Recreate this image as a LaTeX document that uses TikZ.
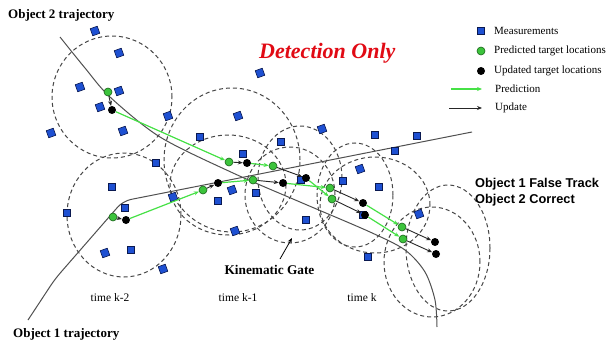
\documentclass[tikz,border=0pt]{standalone}
\usepackage{fontspec}
\setmainfont{Liberation Serif}
\newfontfamily\arialfam{Liberation Sans}
\usetikzlibrary{arrows.meta}
\definecolor{measblue}{RGB}{30,80,210}
\definecolor{measedge}{RGB}{10,25,80}
\definecolor{gfill}{RGB}{60,195,60}
\definecolor{gedge}{RGB}{25,100,25}
\definecolor{gline}{RGB}{70,225,70}
\definecolor{gatecol}{RGB}{70,70,70}
\definecolor{trajcol}{RGB}{80,80,80}
\definecolor{titlered}{RGB}{225,10,20}
\begin{document}
\begin{tikzpicture}[x=1pt,y=-1pt,
 meas/.style={rectangle,draw=measedge,fill=measblue,line width=0.6pt,minimum size=7.5pt,inner sep=0pt},
 tilt/.style={rotate=20},
 gdot/.style={circle,draw=gedge,fill=gfill,line width=0.6pt,minimum size=8pt,inner sep=0pt},
 bdot/.style={circle,fill=black,minimum size=8pt,inner sep=0pt},
 pred/.style={draw=gline,line width=1.2pt,-{Stealth[length=5pt,width=4pt]}},
 upd/.style={draw=black!85,line width=0.9pt,-{Stealth[length=5pt,width=4pt]}},
 gate/.style={draw=gatecol,line width=1pt,dash pattern=on 4pt off 3pt},
 traj/.style={draw=trajcol,line width=1pt},
 lbl/.style={font=\fontsize{11}{13}\selectfont,anchor=west,inner sep=0pt},
 bold/.style={font=\bfseries\fontsize{13}{15}\selectfont,inner sep=0pt},
 sbold/.style={font=\arialfam\bfseries\fontsize{12.8}{15}\selectfont,anchor=west,inner sep=0pt},
 timel/.style={font=\fontsize{11.5}{13}\selectfont,inner sep=0pt}]
\fill[white] (0,0) rectangle (613,345);
\useasboundingbox (0,0) rectangle (613,345);

% gates
\draw[gate] (112,97) ellipse [x radius=60pt, y radius=61pt];
\draw[gate] (124,215) ellipse [x radius=57pt, y radius=62pt];
\draw[gate] (232,160) ellipse [x radius=68pt, y radius=72pt];
\draw[gate] (228,185) ellipse [x radius=58pt, y radius=50pt];
\draw[gate] (300,178) ellipse [x radius=42pt, y radius=52pt];
\draw[gate] (290,195) ellipse [x radius=45pt, y radius=48pt];
\draw[gate] (355,195) ellipse [x radius=38pt, y radius=52pt];
\draw[gate] (375,205) ellipse [x radius=55pt, y radius=48pt];
\draw[gate] (448,248) ellipse [x radius=42pt, y radius=63pt];
\draw[gate] (432,262) ellipse [x radius=48pt, y radius=55pt];

% trajectories
\draw[traj,rounded corners=8pt] (28,320) -- (55,279) -- (123,201) -- (472,132);
\draw[traj] plot[smooth] coordinates {(60,37) (85,68) (110,97) (160,137) (233,173) (300,202) (370,232) (405,250) (425,272) (435,300) (437,327)};

% measurements
\foreach \p [count=\i] in {(95,31),(119,53),(80,87),(100,107),(123,131),(51,133),(168,116),(238,116),(260,73),(105,253),(163,269),(173,197),(232,190),(235,231),(322,129),(360,169),(419,214),(119,91)}
  \node[meas,tilt] (mt\i) at \p {};
\foreach \p [count=\i] in {(200,137),(281,142),(243,154),(156,163),(375,135),(417,136),(395,151),(112,187),(125,208),(67,213),(131,250),(218,201),(256,193),(301,180),(306,220),(343,181),(379,187),(363,215),(368,257)}
  \node[meas] (ms\i) at \p {};

% track 2 (upper)
\node[gdot] (a1) at (108,92) {};
\node[bdot] (b1) at (112,110) {};
\node[gdot] (a2) at (229,162) {};
\node[bdot] (b2) at (247,163) {};
\node[gdot] (a3) at (273,166) {};
\node[bdot] (b3) at (306,178) {};
\node[gdot] (a4) at (332,199) {};
\node[bdot] (b4) at (365,215) {};
\node[gdot] (a5) at (403,239) {};
\node[bdot] (b5) at (436,254) {};
% track 1 (lower)
\node[gdot] (c1) at (113,217) {};
\node[bdot] (d1) at (126,220) {};
\node[gdot] (c2) at (203,190) {};
\node[bdot] (d2) at (218,183) {};
\node[gdot] (c3) at (253,180) {};
\node[bdot] (d3) at (283,183) {};
\node[gdot] (c4) at (330,188) {};
\node[bdot] (d4) at (363,203) {};
\node[gdot] (c5) at (402,227) {};
\node[bdot] (d5) at (435,242) {};

\draw[upd] (a1) -- (b1); \draw[pred] (b1) -- (a2);
\draw[upd] (a2) -- (b2); \draw[pred] (b2) -- (a3);
\draw[upd] (a3) -- (b3); \draw[pred] (b3) -- (a4);
\draw[upd] (a4) -- (b4); \draw[pred] (b4) -- (a5);
\draw[upd] (a5) -- (b5);
\draw[upd] (c1) -- (d1); \draw[pred] (d1) -- (c2);
\draw[upd] (c2) -- (d2); \draw[pred] (d2) -- (c3);
\draw[upd] (c3) -- (d3); \draw[pred] (d3) -- (c4);
\draw[upd] (c4) -- (d4); \draw[pred] (d4) -- (c5);
\draw[upd] (c5) -- (d5);

% texts
\node[bold,anchor=west] (o2t) at (8,15) {Object 2 trajectory};
\node[bold,anchor=west] (o1t) at (13,334) {Object 1 trajectory};
\node[font=\bfseries\itshape\fontsize{22}{26}\selectfont,text=titlered,anchor=west,inner sep=0pt] (det) at (259,53) {Detection Only};
\node[sbold] (ft1) at (475,184) {Object 1 False Track};
\node[sbold] (ft2) at (475,200) {Object 2 Correct};
\node[font=\bfseries\fontsize{13.3}{15}\selectfont,inner sep=0pt] (kg) at (269.5,270) {Kinematic Gate};
\coordinate (kgs) at (280,259);
\coordinate (kgt) at (292,238);
\draw[black,line width=0.8pt,-{Stealth[length=5pt,width=4pt]}] (kgs) -- (kgt);
\node[timel] (t2) at (110,298) {time k-2};
\node[timel] (t1) at (238,298) {time k-1};
\node[timel] (t0) at (362,298) {time k};

% legend
\node[meas] (lm) at (481,31) {};
\node[lbl] (lmt) at (494,31) {Measurements};
\node[gdot] (lg) at (481,51) {};
\node[lbl] (lgt) at (494,51) {Predicted target locations};
\node[bdot] (lb) at (481,71) {};
\node[lbl] (lbt) at (494,71) {Updated target locations};
\coordinate (lps) at (451,89);
\coordinate (lpe) at (482,89);
\draw[pred] (lps) -- (lpe);
\node[lbl] (lpt) at (495,89) {Prediction};
\coordinate (lus) at (449,108);
\coordinate (lue) at (482,108);
\draw[upd] (lus) -- (lue);
\node[lbl] (lut) at (495,108) {Update};
\end{tikzpicture}
\end{document}
